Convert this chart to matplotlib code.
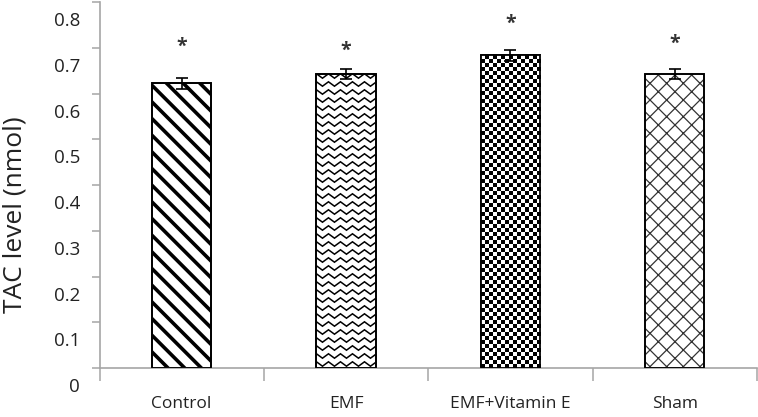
import numpy as np
import matplotlib
matplotlib.use("Agg")
import matplotlib.pyplot as plt
from matplotlib.transforms import ScaledTranslation

categories = ["Control", "EMF", "EMF+Vitamin E", "Sham"]
values = [0.623, 0.644, 0.684, 0.644]
errors = [0.012, 0.011, 0.012, 0.011]
star_heights = [0.703, 0.694, 0.752, 0.710]
yticks = [0, 0.1, 0.2, 0.3, 0.4, 0.5, 0.6, 0.7, 0.8]
ytick_labels = ["0", "0.1", "0.2", "0.3", "0.4", "0.5", "0.6", "0.7", "0.8"]

FONT = "Open Sans"
W, H, DPI = 758, 417, 100
fig = plt.figure(figsize=(W / DPI, H / DPI), dpi=DPI)
ax = fig.add_axes([99.5 / W, 1 - 368 / H, (757 - 99.5) / W, (368 - 2.3) / H])

x = np.arange(len(categories))
bar_w = 0.36
bars = ax.bar(x, values, bar_w, color="white", edgecolor="black", linewidth=1.2,
              zorder=2)
ax.errorbar(x, values, yerr=errors, fmt="none", ecolor="black", elinewidth=1.2,
            capsize=4.5, capthick=1.2, zorder=6)

ax.set_xlim(-0.5, len(categories) - 0.5)
ax.set_ylim(0, 0.8)

# pixel -> data conversion
ax_w_px = (757 - 99.5)
ax_h_px = (368 - 2.3)
px_x = (len(categories)) / ax_w_px
px_y = 0.8 / ax_h_px

# Control: thick diagonal stripes
b = bars[0]
b.set_hatch("\\\\")
try:
    b.set_hatch_linewidth(2.6)
except Exception:
    pass

# Sham: thin diagonal crosshatch
b = bars[3]
b.set_hatch("xx")
b.set_edgecolor("#333333")
try:
    b.set_hatch_linewidth(0.9)
except Exception:
    pass

# EMF: zigzag texture
b = bars[1]
x0, x1 = b.get_x(), b.get_x() + b.get_width()
top = b.get_height()
period = 12 * px_x
amp = 2.2 * px_y
row_gap = 8 * px_y
xs = np.arange(x0 - period, x1 + period, period / 2)
sign = np.where(np.arange(len(xs)) % 2 == 0, 1, -1)
yrow = 4 * px_y
while yrow < top + row_gap:
    ln, = ax.plot(xs, yrow + amp * sign, color="black", lw=1.1, zorder=3,
                  solid_joinstyle="miter")
    ln.set_clip_path(b)
    yrow += row_gap

# EMF+Vitamin E: fine checkerboard
b = bars[2]
x0, x1 = b.get_x(), b.get_x() + b.get_width()
top = b.get_height()
sq = 4.0
ncols = int(round(b.get_width() / px_x / sq))
nrows = int(round(top / px_y / sq))
ii, jj = np.indices((nrows, ncols))
checker = ((ii + jj) % 2).astype(float)
im = ax.imshow(checker, cmap="gray", vmin=0.0, vmax=1.0, interpolation="antialiased",
               extent=(x0, x1, 0, top), aspect="auto", zorder=3, origin="lower")
im.set_clip_path(b)
ax.set_xlim(-0.5, len(categories) - 0.5)
ax.set_ylim(0, 0.8)

# redraw edges on top
for b in bars:
    ax.add_patch(plt.Rectangle((b.get_x(), 0), b.get_width(), b.get_height(),
                               fill=False, edgecolor="black", lw=1.3, zorder=5))

# asterisks
for xi, sh in zip(x, star_heights):
    ax.text(xi, sh, "*", ha="center", va="center", fontsize=14, color="#333333",
            family=FONT, fontweight="bold", zorder=7)

# spines
for s in ["top", "right"]:
    ax.spines[s].set_visible(False)
for s in ["left", "bottom"]:
    ax.spines[s].set_color("#a6a6a6")
    ax.spines[s].set_linewidth(1.2)

ax.set_yticks(yticks)
ax.set_yticklabels(ytick_labels, family=FONT, fontsize=13.5, color="#222222")
ax.tick_params(axis="y", direction="out", length=6, width=1.1, color="#a6a6a6", pad=8)
offset = ScaledTranslation(0, -17 / DPI, fig.dpi_scale_trans)
for lab in ax.get_yticklabels():
    lab.set_transform(lab.get_transform() + offset)

ax.set_xticks(np.arange(-0.5, len(categories), 1.0))
ax.set_xticklabels([])
ax.tick_params(axis="x", which="major", direction="out", length=9, width=1.1,
               color="#a6a6a6")
ax.set_xticks(x, minor=True)
ax.set_xticklabels(categories, minor=True, family=FONT, fontsize=12.5, color="#222222")
ax.tick_params(axis="x", which="minor", length=0, pad=20)

fig.text(15 / W, 1 - 215 / H, "TAC level (nmol)", rotation=90, ha="center",
         va="center", family=FONT, fontsize=19, color="#222222")

fig.savefig("out.png", dpi=DPI)
